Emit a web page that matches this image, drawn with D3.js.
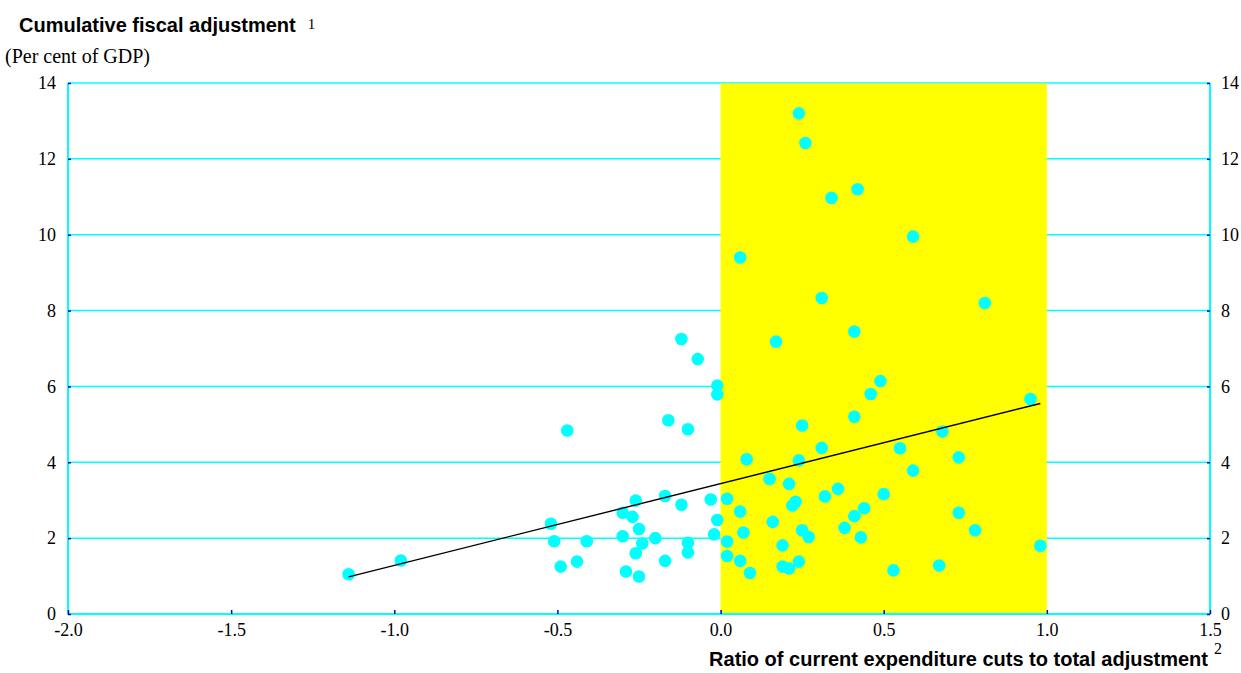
<!DOCTYPE html>
<html>
<head>
<meta charset="utf-8">
<script src="https://cdn.jsdelivr.net/npm/d3@7"></script>
<style>
  body { margin: 0; background: #fff; }
  svg { display: block; }
</style>
</head>
<body>
<div class="chart"></div>
<script>
// Ratio of current expenditure cuts to total adjustment (x)
const ratio = [
  -1.14, -0.98, -0.52, -0.51, -0.49, -0.47, -0.44, -0.41, -0.30, -0.30,
  -0.29, -0.27, -0.26, -0.25, -0.26, -0.25, -0.24, -0.20, -0.17, -0.17,
  -0.16, -0.12, -0.12, -0.10, -0.10, -0.10, -0.07, -0.03, -0.02, -0.01,
  -0.01, -0.01,
  0.02, 0.02, 0.02, 0.06, 0.06, 0.06, 0.07, 0.08, 0.09, 0.15,
  0.16, 0.17, 0.19, 0.19, 0.21, 0.21, 0.22, 0.23, 0.24, 0.24,
  0.24, 0.25, 0.25, 0.26, 0.27, 0.31, 0.31, 0.32, 0.34, 0.36,
  0.38, 0.41, 0.41, 0.41, 0.42, 0.43, 0.44, 0.46, 0.49, 0.50,
  0.53, 0.55, 0.59, 0.59, 0.67, 0.68, 0.73, 0.73, 0.78, 0.81,
  0.95, 0.98
];
// Cumulative fiscal adjustment, per cent of GDP (y)
const adjustment = [
  1.05, 1.41, 2.38, 1.92, 1.25, 4.84, 1.38, 1.92, 2.67, 2.05,
  1.12, 2.56, 2.99, 2.24, 1.60, 0.99, 1.86, 2.00, 3.11, 1.40,
  5.11, 2.88, 7.25, 4.87, 1.88, 1.62, 6.72, 3.02, 2.10, 6.02,
  5.79, 2.48,
  3.04, 1.91, 1.53, 2.70, 1.40, 9.40, 2.15, 4.08, 1.08, 3.56,
  2.43, 7.18, 1.81, 1.25, 3.43, 1.20, 2.86, 2.96, 4.05, 1.38,
  13.20, 4.97, 2.21, 12.42, 2.03, 4.38, 8.33, 3.10, 10.97, 3.30,
  2.27, 5.20, 2.58, 7.45, 11.20, 2.02, 2.79, 5.80, 6.14, 3.16,
  1.15, 4.37, 3.78, 9.95, 1.28, 4.81, 4.13, 2.67, 2.21, 8.20,
  5.67, 1.80
];
// fitted trend line end points
const trendX = [-1.14, 0.98];
const trendY = [0.98, 5.55];
// shaded band on the x axis
const bandX = [0, 1];

const xTicks = [-2.0, -1.5, -1.0, -0.5, 0.0, 0.5, 1.0, 1.5];
const yTicks = [0, 2, 4, 6, 8, 10, 12, 14];

const W = 1241, H = 673;
const Margin = {top: 83, right: 31, bottom: 59, left: 68};
const Width = W - Margin.left - Margin.right,
      Height = H - Margin.top - Margin.bottom;

const serif = "'Liberation Serif', 'Times New Roman', serif";
const sans = "'Liberation Sans', Arial, sans-serif";

const root = d3.select(".chart").append("svg")
  .attr("width", W).attr("height", H);

const svg = root.append("g")
  .attr("transform", "translate(" + Margin.left + "," + Margin.top + ")");

const x = d3.scaleLinear().domain([-2, 1.5]).range([0, Width]);
const y = d3.scaleLinear().domain([0, 14]).range([Height, 0]);

// horizontal gridlines
svg.append("g").selectAll("line").data(yTicks).join("line")
  .attr("x1", 0).attr("x2", Width)
  .attr("y1", d => y(d)).attr("y2", d => y(d))
  .attr("stroke", "#00ffff").attr("stroke-width", 1.5);

// yellow band
svg.append("rect")
  .attr("x", x(bandX[0])).attr("width", x(bandX[1]) - x(bandX[0]))
  .attr("y", y(14) + 0.5).attr("height", y(0) - y(14) - 0.5)
  .attr("fill", "#ffff00");

// frame: left, right, bottom
svg.append("path")
  .attr("d", `M0,${y(14)}V${y(0)}H${Width}V${y(14)}`)
  .attr("fill", "none").attr("stroke", "#00ffff").attr("stroke-width", 2);

// axes (labels use a plain hyphen like the original)
const fmtX = d => d.toFixed(1);
const yAxisL = svg.append("g")
  .call(d3.axisLeft(y).tickValues(yTicks).tickSize(-3).tickPadding(12).tickFormat(d3.format("d")));
const yAxisR = svg.append("g")
  .attr("transform", "translate(" + Width + ",0)")
  .call(d3.axisRight(y).tickValues(yTicks).tickSize(-3).tickPadding(11).tickFormat(d3.format("d")));
const xAxis = svg.append("g")
  .attr("transform", "translate(0," + Height + ")")
  .call(d3.axisBottom(x).tickValues(xTicks).tickSize(-4).tickPadding(9).tickFormat(fmtX));

[yAxisL, yAxisR, xAxis].forEach(a => {
  a.select(".domain").remove();
  a.selectAll(".tick line").attr("stroke", "#0000cc").attr("stroke-width", 1.5);
  a.selectAll("text")
    .attr("fill", "#000")
    .style("font-family", serif)
    .style("font-size", "18px");
});

// points
const pts = ratio.map((d, i) => ({x: d, y: adjustment[i]}));
svg.append("g").selectAll("circle").data(pts).join("circle")
  .attr("cx", d => x(d.x)).attr("cy", d => y(d.y))
  .attr("r", 6.3)
  .attr("fill", "#00ffff");

// trend line
svg.append("line")
  .attr("x1", x(trendX[0])).attr("y1", y(trendY[0]))
  .attr("x2", x(trendX[1])).attr("y2", y(trendY[1]))
  .attr("stroke", "#000").attr("stroke-width", 1.4);

// titles
const t1 = root.append("text")
  .attr("x", 19).attr("y", 32)
  .style("font-family", sans).style("font-size", "20px").style("font-weight", "bold")
  .text("Cumulative fiscal adjustment");
root.append("text")
  .attr("x", 19 + t1.node().getComputedTextLength() + 12).attr("y", 29)
  .style("font-family", serif).style("font-size", "15px")
  .text("1");

root.append("text")
  .attr("x", 5).attr("y", 63)
  .style("font-family", serif).style("font-size", "20px")
  .text("(Per cent of GDP)");

root.append("text")
  .attr("x", 1208).attr("y", 666)
  .attr("text-anchor", "end")
  .style("font-family", sans).style("font-size", "20px").style("font-weight", "bold")
  .text("Ratio of current expenditure cuts to total adjustment");
root.append("text")
  .attr("x", 1214).attr("y", 654)
  .style("font-family", serif).style("font-size", "16px")
  .text("2");
</script>
</body>
</html>
